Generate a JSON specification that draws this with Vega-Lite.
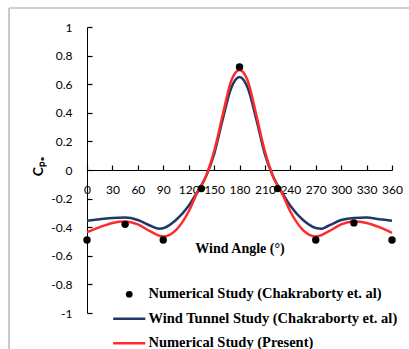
{
  "$schema": "https://vega.github.io/schema/vega-lite/v6.json",
  "width": 305,
  "height": 286,
  "autosize": "none",
  "padding": {"left": 87, "top": 27, "right": 17, "bottom": 36},
  "background": "white",
  "config": {
    "view": {"stroke": null},
    "axis": {"labelFont": "Lato", "labelFontSize": 12, "labelColor": "black", "grid": false, "labelOverlap": false, "labelFlush": false}
  },
  "datasets": {
    "frame": [
      {"angle": -92, "angle2": 420, "cpe": 1.133, "cpe2": 1.133},
      {"angle": -92, "angle2": -92, "cpe": 1.133, "cpe2": -1.4}
    ],
    "curves": [
      {"angle": 0, "cpe": -0.355, "series": "Wind Tunnel Study (Chakraborty et. al)"},
      {"angle": 15, "cpe": -0.345, "series": "Wind Tunnel Study (Chakraborty et. al)"},
      {"angle": 30, "cpe": -0.335, "series": "Wind Tunnel Study (Chakraborty et. al)"},
      {"angle": 45, "cpe": -0.333, "series": "Wind Tunnel Study (Chakraborty et. al)"},
      {"angle": 60, "cpe": -0.35, "series": "Wind Tunnel Study (Chakraborty et. al)"},
      {"angle": 75, "cpe": -0.39, "series": "Wind Tunnel Study (Chakraborty et. al)"},
      {"angle": 85, "cpe": -0.41, "series": "Wind Tunnel Study (Chakraborty et. al)"},
      {"angle": 90, "cpe": -0.407, "series": "Wind Tunnel Study (Chakraborty et. al)"},
      {"angle": 105, "cpe": -0.35, "series": "Wind Tunnel Study (Chakraborty et. al)"},
      {"angle": 120, "cpe": -0.25, "series": "Wind Tunnel Study (Chakraborty et. al)"},
      {"angle": 130, "cpe": -0.155, "series": "Wind Tunnel Study (Chakraborty et. al)"},
      {"angle": 140, "cpe": -0.05, "series": "Wind Tunnel Study (Chakraborty et. al)"},
      {"angle": 150, "cpe": 0.11, "series": "Wind Tunnel Study (Chakraborty et. al)"},
      {"angle": 160, "cpe": 0.35, "series": "Wind Tunnel Study (Chakraborty et. al)"},
      {"angle": 170, "cpe": 0.57, "series": "Wind Tunnel Study (Chakraborty et. al)"},
      {"angle": 180, "cpe": 0.65, "series": "Wind Tunnel Study (Chakraborty et. al)"},
      {"angle": 190, "cpe": 0.57, "series": "Wind Tunnel Study (Chakraborty et. al)"},
      {"angle": 200, "cpe": 0.35, "series": "Wind Tunnel Study (Chakraborty et. al)"},
      {"angle": 210, "cpe": 0.11, "series": "Wind Tunnel Study (Chakraborty et. al)"},
      {"angle": 220, "cpe": -0.05, "series": "Wind Tunnel Study (Chakraborty et. al)"},
      {"angle": 230, "cpe": -0.155, "series": "Wind Tunnel Study (Chakraborty et. al)"},
      {"angle": 240, "cpe": -0.25, "series": "Wind Tunnel Study (Chakraborty et. al)"},
      {"angle": 255, "cpe": -0.35, "series": "Wind Tunnel Study (Chakraborty et. al)"},
      {"angle": 270, "cpe": -0.405, "series": "Wind Tunnel Study (Chakraborty et. al)"},
      {"angle": 277, "cpe": -0.41, "series": "Wind Tunnel Study (Chakraborty et. al)"},
      {"angle": 285, "cpe": -0.39, "series": "Wind Tunnel Study (Chakraborty et. al)"},
      {"angle": 300, "cpe": -0.35, "series": "Wind Tunnel Study (Chakraborty et. al)"},
      {"angle": 315, "cpe": -0.335, "series": "Wind Tunnel Study (Chakraborty et. al)"},
      {"angle": 330, "cpe": -0.333, "series": "Wind Tunnel Study (Chakraborty et. al)"},
      {"angle": 345, "cpe": -0.345, "series": "Wind Tunnel Study (Chakraborty et. al)"},
      {"angle": 360, "cpe": -0.355, "series": "Wind Tunnel Study (Chakraborty et. al)"},
      {"angle": 0, "cpe": -0.435, "series": "Numerical Study (Present)"},
      {"angle": 15, "cpe": -0.4, "series": "Numerical Study (Present)"},
      {"angle": 30, "cpe": -0.37, "series": "Numerical Study (Present)"},
      {"angle": 45, "cpe": -0.36, "series": "Numerical Study (Present)"},
      {"angle": 60, "cpe": -0.38, "series": "Numerical Study (Present)"},
      {"angle": 75, "cpe": -0.43, "series": "Numerical Study (Present)"},
      {"angle": 90, "cpe": -0.465, "series": "Numerical Study (Present)"},
      {"angle": 105, "cpe": -0.42, "series": "Numerical Study (Present)"},
      {"angle": 120, "cpe": -0.29, "series": "Numerical Study (Present)"},
      {"angle": 130, "cpe": -0.16, "series": "Numerical Study (Present)"},
      {"angle": 140, "cpe": -0.05, "series": "Numerical Study (Present)"},
      {"angle": 150, "cpe": 0.13, "series": "Numerical Study (Present)"},
      {"angle": 160, "cpe": 0.38, "series": "Numerical Study (Present)"},
      {"angle": 170, "cpe": 0.62, "series": "Numerical Study (Present)"},
      {"angle": 180, "cpe": 0.7, "series": "Numerical Study (Present)"},
      {"angle": 190, "cpe": 0.62, "series": "Numerical Study (Present)"},
      {"angle": 200, "cpe": 0.38, "series": "Numerical Study (Present)"},
      {"angle": 210, "cpe": 0.13, "series": "Numerical Study (Present)"},
      {"angle": 220, "cpe": -0.05, "series": "Numerical Study (Present)"},
      {"angle": 230, "cpe": -0.16, "series": "Numerical Study (Present)"},
      {"angle": 240, "cpe": -0.29, "series": "Numerical Study (Present)"},
      {"angle": 255, "cpe": -0.42, "series": "Numerical Study (Present)"},
      {"angle": 270, "cpe": -0.465, "series": "Numerical Study (Present)"},
      {"angle": 285, "cpe": -0.43, "series": "Numerical Study (Present)"},
      {"angle": 300, "cpe": -0.38, "series": "Numerical Study (Present)"},
      {"angle": 315, "cpe": -0.36, "series": "Numerical Study (Present)"},
      {"angle": 330, "cpe": -0.37, "series": "Numerical Study (Present)"},
      {"angle": 345, "cpe": -0.4, "series": "Numerical Study (Present)"},
      {"angle": 360, "cpe": -0.44, "series": "Numerical Study (Present)"}
    ],
    "points": [
      {"angle": 0, "cpe": -0.49, "series": "Numerical Study (Chakraborty et. al)"},
      {"angle": 45, "cpe": -0.38, "series": "Numerical Study (Chakraborty et. al)"},
      {"angle": 90, "cpe": -0.49, "series": "Numerical Study (Chakraborty et. al)"},
      {"angle": 135, "cpe": -0.13, "series": "Numerical Study (Chakraborty et. al)"},
      {"angle": 180, "cpe": 0.72, "series": "Numerical Study (Chakraborty et. al)"},
      {"angle": 225, "cpe": -0.13, "series": "Numerical Study (Chakraborty et. al)"},
      {"angle": 270, "cpe": -0.49, "series": "Numerical Study (Chakraborty et. al)"},
      {"angle": 315, "cpe": -0.37, "series": "Numerical Study (Chakraborty et. al)"},
      {"angle": 360, "cpe": -0.49, "series": "Numerical Study (Chakraborty et. al)"}
    ]
  },
  "encoding": {
    "x": {
      "field": "angle", "type": "quantitative",
      "scale": {"domain": [0, 360], "nice": false},
      "axis": {
        "values": [0, 30, 60, 90, 120, 150, 180, 210, 240, 270, 300, 330, 360],
        "offset": -143,
        "domainColor": "black",
        "tickColor": "black",
        "tickSize": -5,
        "tickWidth": 1.2,
        "labelPadding": 19,
        "labelFlush": false,
        "labelOverlap": false,
        "title": "Wind Angle (°)",
        "titleFont": "Liberation Serif",
        "titleFontSize": 14,
        "titleFontWeight": "bold",
        "titleColor": "black",
        "titleY": 78,
        "titleBaseline": "middle"
      }
    },
    "y": {
      "field": "cpe", "type": "quantitative",
      "scale": {"domain": [-1, 1], "nice": false},
      "axis": {
        "values": [-1, -0.8, -0.6, -0.4, -0.2, 0, 0.2, 0.4, 0.6, 0.8, 1],
        "labelExpr": "toString(round(datum.value * 10) / 10)",
        "labelOverlap": false,
        "domainColor": "black",
        "tickColor": "black",
        "tickSize": -5,
        "tickWidth": 1.2,
        "labelPadding": 20,
        "title": "Cₚₑ",
        "titleFont": "Lato",
        "titleFontSize": 14,
        "titleFontWeight": "bold",
        "titleColor": "black",
        "titleAngle": 270,
        "titleX": -49,
        "titleY": 139,
        "titleBaseline": "middle",
        "titleAlign": "center"
      }
    }
  },
  "layer": [
    {
      "data": {"name": "frame"},
      "mark": {"type": "rule", "color": "#A6A6A6", "strokeWidth": 1.2},
      "encoding": {
        "x2": {"field": "angle2"},
        "y2": {"field": "cpe2"}
      }
    },
    {
      "data": {"name": "curves"},
      "mark": {"type": "line", "interpolate": "monotone", "strokeWidth": 2.5},
      "encoding": {
        "color": {
          "field": "series", "type": "nominal",
          "scale": {
            "domain": ["Numerical Study (Chakraborty et. al)", "Wind Tunnel Study (Chakraborty et. al)", "Numerical Study (Present)"],
            "range": ["black", "#1F3864", "#FF2A2A"]
          },
          "legend": {
            "title": null,
            "orient": "none",
            "legendX": 35,
            "legendY": 260,
            "symbolSize": 196,
            "symbolStrokeWidth": 0,
            "labelFont": "Liberation Serif",
            "labelFontSize": 14.5,
            "labelFontWeight": "bold",
            "labelColor": "black",
            "labelOffset": 12,
            "labelLimit": 400,
            "rowPadding": 9.5,
            "encode": {
              "symbols": {
                "update": {
                  "shape": {"signal": "datum.value === 'Numerical Study (Chakraborty et. al)' ? 'circle' : 'M-2.3,0L2.3,0'"},
                  "size": {"signal": "datum.value === 'Numerical Study (Chakraborty et. al)' ? 45 : 196"},
                  "fill": {"signal": "datum.value === 'Numerical Study (Chakraborty et. al)' ? 'black' : 'transparent'"},
                  "stroke": {"signal": "datum.value === 'Numerical Study (Present)' ? '#FF2A2A' : (datum.value === 'Wind Tunnel Study (Chakraborty et. al)' ? '#1F3864' : 'black')"},
                  "strokeWidth": {"signal": "datum.value === 'Numerical Study (Chakraborty et. al)' ? 0 : 2.5"},
                  "opacity": {"value": 1}
                }
              }
            }
          }
        },
        "order": {"field": "angle"}
      }
    },
    {
      "data": {"name": "points"},
      "mark": {"type": "point", "filled": true, "size": 55, "opacity": 1},
      "encoding": {
        "color": {"field": "series", "type": "nominal"}
      }
    }
  ]
}
